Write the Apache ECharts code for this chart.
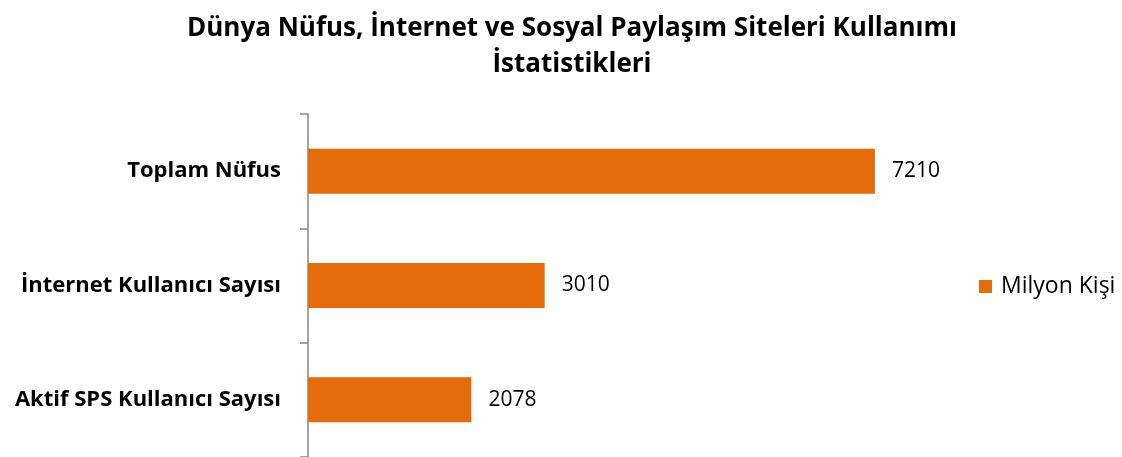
<!DOCTYPE html>
<html>
<head>
<meta charset="utf-8">
<script src="https://cdn.jsdelivr.net/npm/echarts@6/dist/echarts.min.js"></script>
<style>
  html, body { margin: 0; padding: 0; background: #fff; }
  #chart { width: 1122px; height: 457px; }
</style>
</head>
<body>
<div id="chart"></div>
<script>
const categories = ['Toplam Nüfus', 'İnternet Kullanıcı Sayısı', 'Aktif SPS Kullanıcı Sayısı'];
const values = [7210, 3010, 2078];
const seriesName = 'Milyon Kişi';

const chart = echarts.init(document.getElementById('chart'), null, { renderer: 'canvas' });
const font = '"Open Sans", sans-serif';

chart.setOption({
  animation: false,
  textStyle: { fontFamily: font },
  title: {
    text: 'Dünya Nüfus, İnternet ve Sosyal Paylaşım Siteleri Kullanımı\nİstatistikleri',
    left: 567,
    textAlign: 'center',
    top: 6,
    textStyle: { fontFamily: font, fontSize: 26, fontWeight: 'bold', color: '#000', lineHeight: 36 }
  },
  legend: {
    data: [seriesName],
    orient: 'vertical',
    left: 979,
    top: 275,
    padding: 0,
    itemWidth: 13,
    itemHeight: 13,
    itemGap: 6,
    icon: 'rect',
    textStyle: { fontFamily: font, fontSize: 23, color: '#000', padding: [0, 0, 0, 4] }
  },
  grid: { left: 308, top: 114, width: 629, bottom: 0, containLabel: false },
  xAxis: {
    type: 'value',
    min: 0,
    max: 8000,
    show: false
  },
  yAxis: {
    type: 'category',
    data: categories,
    inverse: true,
    axisLine: { lineStyle: { color: '#868686', width: 1.5 } },
    axisTick: { show: true, length: 8, lineStyle: { color: '#868686', width: 1.5 } },
    axisLabel: { fontFamily: font, fontSize: 22, fontWeight: 'bold', color: '#000', margin: 27 }
  },
  series: [{
    name: seriesName,
    type: 'bar',
    data: values,
    barWidth: 45,
    itemStyle: { color: '#E46C0A' },
    label: {
      show: true,
      position: 'right',
      distance: 17,
      fontFamily: font,
      fontSize: 21,
      color: '#000'
    }
  }]
});
</script>
</body>
</html>
